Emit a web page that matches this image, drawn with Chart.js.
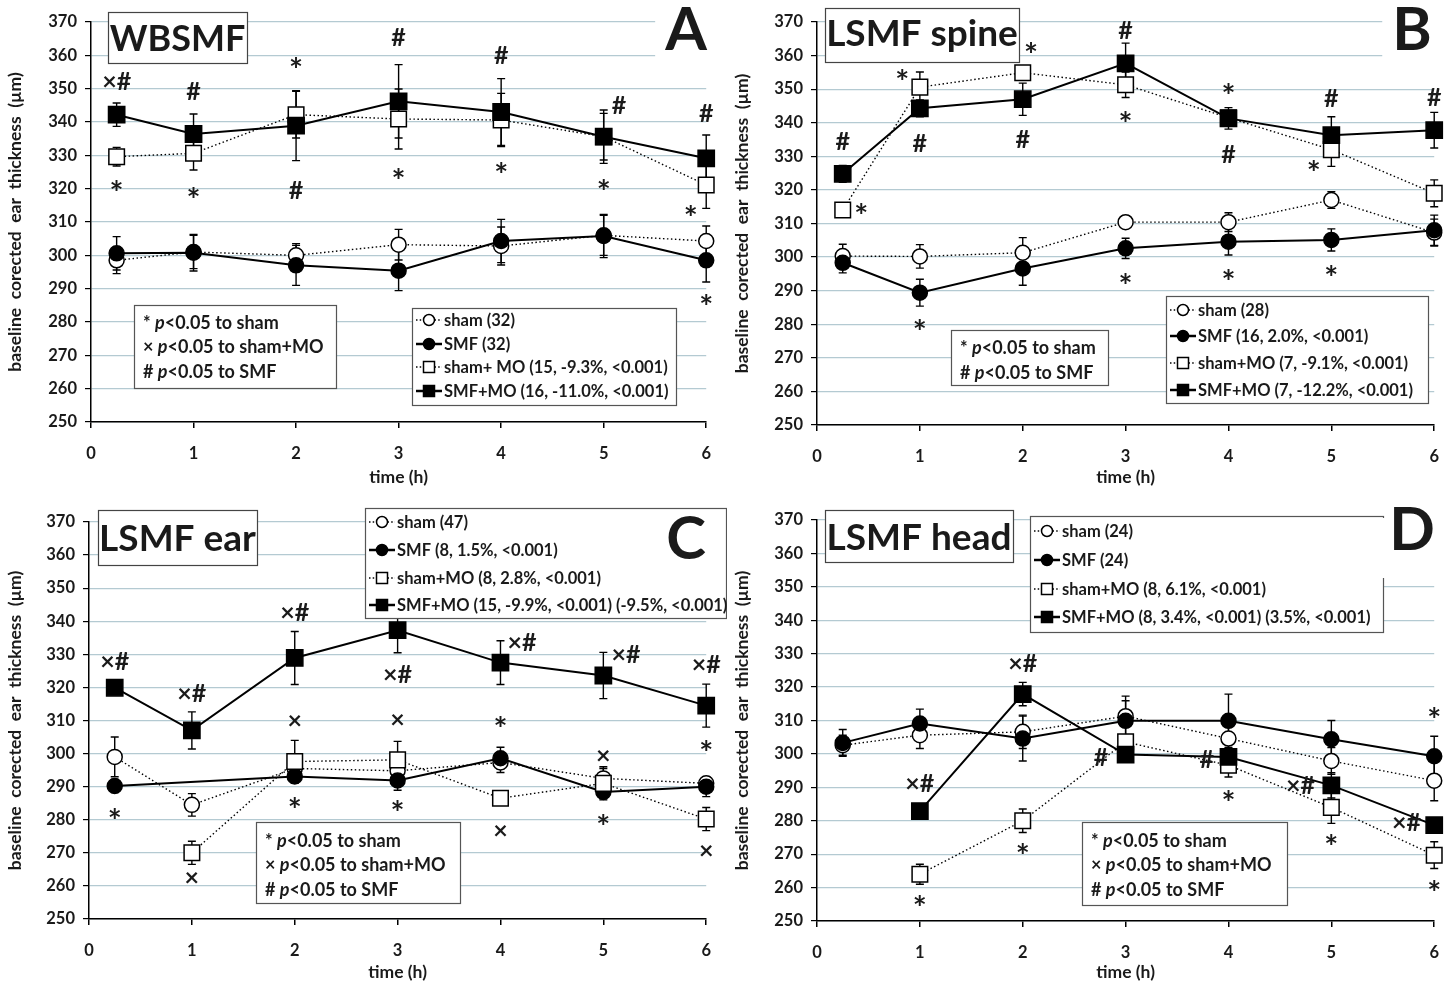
<!DOCTYPE html>
<html><head><meta charset="utf-8">
<script src="https://cdn.jsdelivr.net/npm/chart.js@4"></script>
<style>
html,body{margin:0;padding:0;background:#fff;}
#wrap{position:relative;width:1455px;height:985px;overflow:hidden;background:#fff;}
canvas{position:absolute;}
</style></head><body>
<div id="wrap">
<canvas id="cA" width="727" height="490" style="left:0;top:0"></canvas>
<canvas id="cB" width="728" height="490" style="left:727px;top:0"></canvas>
<canvas id="cC" width="727" height="495" style="left:0;top:490px"></canvas>
<canvas id="cD" width="728" height="495" style="left:727px;top:490px"></canvas>
</div>
<script>
// ---------- DATA ----------
const timeH = [0.25, 1, 2, 3, 4, 5, 6];
const yTickMin = 250, yTickMax = 370, yTickStep = 10;
const xTickMin = 0, xTickMax = 6;
const yAxisTitle = 'baseline  corected  ear  thickness  (µm)';
const xAxisTitle = 'time (h)';

// Panel A (WBSMF)
const A_sham      = [298.5, 301.0, 300.0, 303.2, 302.8, 306.0, 304.3];
const A_shamErr   = [4, 5, 3.5, 4.6, 5.7, 6, 4.5];
const A_smf       = [300.6, 300.8, 297.0, 295.4, 304.3, 305.8, 298.5];
const A_smfErr    = [5, 5.5, 6, 6, 6.5, 6.5, 6.5];
const A_shamMO    = [329.6, 330.6, 342.2, 340.9, 340.6, 335.6, 321.1];
const A_shamMOErr = [2.8, 5, 7, 9, 8, 7, 7];
const A_smfMO     = [342.2, 336.4, 338.9, 346.2, 343.0, 335.6, 329.1];
const A_smfMOErr  = [3.5, 6, 10.5, 11, 10, 8, 7];
const A_legend = ['sham (32)', 'SMF (32)', 'sham+ MO (15, -9.3%, <0.001)', 'SMF+MO (16, -11.0%, <0.001)'];
const A_marks = [[0.25,352.3,'×#'],[1,349.3,'#'],[2,358,'*'],[3,365.4,'#'],[4,360,'#'],[5.15,345,'#'],[6,342.6,'#'],
  [0.25,321,'*'],[1,319,'*'],[2,319.6,'#'],[3,324.6,'*'],[4,326.6,'*'],[5,321.4,'*'],[5.85,313.6,'*'],[6,287,'*']];

// Panel B (LSMF spine)
const B_sham      = [300.3, 300.2, 301.3, 310.4, 310.4, 317.0, 307.3];
const B_shamErr   = [3.5, 3.5, 4.5, 1.8, 2.8, 2.5, 4];
const B_smf       = [298.3, 289.4, 296.6, 302.6, 304.6, 305.1, 308.0];
const B_smfErr    = [3, 4, 5, 3, 4, 3.3, 4.5];
const B_shamMO    = [314.0, 350.6, 354.9, 351.3, 341.5, 332.0, 319.0];
const B_shamMOErr = [0, 4.5, 1.5, 3.8, 1.5, 5, 4];
const B_smfMO     = [324.8, 344.3, 347.0, 357.7, 341.3, 336.3, 337.8];
const B_smfMOErr  = [2.5, 2.5, 4.8, 6, 3.2, 5.5, 5.3];
const B_legend = ['sham (28)', 'SMF (16, 2.0%, <0.001)', 'sham+MO (7, -9.1%, <0.001)', 'SMF+MO (7, -12.2%, <0.001)'];
const B_marks = [[0.25,334.5,'#'],[0.43,314.5,'*'],[0.83,354.6,'*'],[1,334,'#'],[2.08,362.7,'*'],[2,335.2,'#'],
  [3,367.6,'#'],[3,341.9,'*'],[4,350.3,'*'],[4,330.8,'#'],[5,347.3,'#'],[4.83,327.5,'*'],[6,347.8,'#'],
  [1,280,'*'],[3,293.9,'*'],[4,294.9,'*'],[5,296.3,'*']];

// Panel C (LSMF ear)
const C_sham      = [299.0, 284.5, 295.5, 294.8, 297.3, 292.5, 291.0];
const C_shamErr   = [6, 3.4, 2, 2, 3, 3, 2];
const C_smf       = [290.2, null, 293.1, 291.9, 298.6, 288.4, 290.0];
const C_smfErr    = [2, null, 2, 3, 3.3, 2, 3];
const C_shamMO    = [null, 270.0, 297.6, 298.1, 286.5, 291.0, 280.2];
const C_shamMOErr = [null, 3.5, 6.4, 5.6, 2, 5, 3.5];
const C_smfMO     = [319.9, 307.0, 328.9, 337.3, 327.5, 323.6, 314.5];
const C_smfMOErr  = [1.5, 5.6, 8, 6.8, 6.6, 7, 6.5];
const C_legend = ['sham (47)', 'SMF (8, 1.5%, <0.001)', 'sham+MO (8, 2.8%, <0.001)', 'SMF+MO (15, -9.9%, <0.001) (-9.5%, <0.001)'];
const C_marks = [[0.25,328,'×#'],[1,318.4,'×#'],[2,342.7,'×#'],[3,324,'×#'],[4.21,333.6,'×#'],[5.22,330.2,'×#'],[6,327,'×#'],
  [2,310,'×'],[3,310.3,'×'],[4,309.8,'*'],[6,302.7,'*'],[5,299.3,'×'],[0.25,282,'*'],[2,285.5,'*'],[3,284.5,'*'],
  [4,276.9,'×'],[5,280.1,'*'],[6,270.8,'×'],[1,262.5,'×']];

// Panel D (LSMF head)
const D_sham      = [302.6, 305.6, 306.6, 311.3, 304.6, 297.9, 292.0];
const D_shamErr   = [3, 4, 5, 6, 4, 4, 6];
const D_smf       = [303.3, 309.1, 304.6, 309.9, 309.9, 304.4, 299.3];
const D_smfErr    = [4, 4.3, 6.7, 6, 8, 5.6, 6];
const D_shamMO    = [null, 264.0, 280.0, 303.6, 296.6, 284.0, 269.7];
const D_shamMOErr = [null, 3, 3.5, 2, 3.5, 4.8, 4];
const D_smfMO     = [null, 282.9, 317.9, 299.8, 299.1, 290.6, 278.7];
const D_smfMOErr  = [null, 1.5, 3.5, 2, 2.5, 3.8, 0];
const D_legend = ['sham (24)', 'SMF (24)', 'sham+MO (8, 6.1%, <0.001)', 'SMF+MO (8, 3.4%, <0.001) (3.5%, <0.001)'];
const D_marks = [[2,327.1,'×#'],[1,291.4,'×#'],[2.76,299.1,'#'],[3.79,298.6,'#'],[4.7,290.7,'×#'],[5.73,279.7,'×#'],
  [6,312.6,'*'],[4,287.7,'*'],[5,274.4,'*'],[2,271.7,'*'],[1,256.2,'*'],[6,260.7,'*']];

const notesAll = [['*','sham'],['×','sham+MO'],['#','SMF']];
const notesB = [['*','sham'],['#','SMF']];

// ---------- LAYOUT ----------
const FONT = 'Lato, "Open Sans", sans-serif';
const INK = '#1a1a1a';
const panels = {
  cA: {title:'WBSMF', letter:'A', legend:A_legend, marks:A_marks, notes:notesAll,
       series:[A_sham,A_shamErr,A_smf,A_smfErr,A_shamMO,A_shamMOErr,A_smfMO,A_smfMOErr],
       area:{top:22, right:19, yw:91, xh:68},
       tbox:[108,12,139,51], tfont:36, letterPos:[686,48],
       lbox:[412,308,264,97], lrows:[320,344,367,391],
       nbox:[134,305,202,83], nrows:[322,346,371]},
  cB: {title:'LSMF spine', letter:'B', legend:B_legend, marks:B_marks, notes:notesB,
       series:[B_sham,B_shamErr,B_smf,B_smfErr,B_shamMO,B_shamMOErr,B_smfMO,B_smfMOErr],
       area:{top:22, right:20, yw:90, xh:65},
       tbox:[98,8,194,54], tfont:37, letterPos:[685,48],
       lbox:[439,296,262,107], lrows:[310,336,363,390],
       nbox:[224,330,157,55], nrows:[347,372]},
  cC: {title:'LSMF ear', letter:'C', legend:C_legend, marks:C_marks, notes:notesAll,
       series:[C_sham,C_shamErr,C_smf,C_smfErr,C_shamMO,C_shamMOErr,C_smfMO,C_smfMOErr],
       area:{top:32, right:19, yw:89, xh:66},
       tbox:[98,20,159,55], tfont:37, letterPos:[686,67],
       lbox:[365,18,361,110], lrows:[32,60,88,115],
       nbox:[256,332,204,81], nrows:[350,374,399]},
  cD: {title:'LSMF head', letter:'D', legend:D_legend, marks:D_marks, notes:notesAll,
       series:[D_sham,D_shamErr,D_smf,D_smfErr,D_shamMO,D_shamMOErr,D_smfMO,D_smfMOErr],
       area:{top:30, right:20, yw:90, xh:64},
       tbox:[98,20,188,52], tfont:37, letterPos:[685,58],
       lbox:[303,26,353,116], lrows:[41,70,99,127],
       nbox:[355,332,205,83], nrows:[350,374,399]}
};

function centerText(ctx, text, cx, cy) {
  const m = ctx.measureText(text);
  const asc = m.actualBoundingBoxAscent, desc = m.actualBoundingBoxDescent;
  ctx.textAlign = 'center';
  ctx.textBaseline = 'alphabetic';
  ctx.fillText(text, cx, cy + (asc - desc) / 2);
}

function drawSample(ctx, kind, x, y) {
  const w = 26, cx = x + 13;
  const dotted = (kind === 0 || kind === 2);
  ctx.save();
  ctx.strokeStyle = '#000';
  ctx.lineWidth = dotted ? 1.4 : 2.5;
  ctx.setLineDash(dotted ? [1.5, 2.2] : []);
  ctx.beginPath(); ctx.moveTo(x, y); ctx.lineTo(x + w, y); ctx.stroke();
  ctx.setLineDash([]);
  ctx.lineWidth = 1.5;
  ctx.fillStyle = (kind === 1 || kind === 3) ? '#000' : '#fff';
  ctx.beginPath();
  if (kind < 2) ctx.arc(cx, y, 5.5, 0, Math.PI * 2);
  else ctx.rect(cx - 5.5, y - 5.5, 11, 11);
  ctx.fill(); ctx.stroke();
  ctx.restore();
}

function drawBox(ctx, b, stroke) {
  ctx.save();
  ctx.fillStyle = '#fff';
  ctx.fillRect(b[0], b[1], b[2], b[3]);
  ctx.strokeStyle = stroke; ctx.lineWidth = 1.2;
  ctx.strokeRect(b[0] + 0.5, b[1] + 0.5, b[2], b[3]);
  ctx.restore();
}

const overlay = {
  id: 'overlay',
  beforeDatasetsDraw(chart) {
    const ctx = chart.ctx, ys = chart.scales.y;
    ctx.save();
    ctx.strokeStyle = '#000'; ctx.lineWidth = 1.4;
    chart.data.datasets.forEach((ds, d) => {
      const meta = chart.getDatasetMeta(d);
      ds.data.forEach((p, i) => {
        const e = ds.errs[i];
        if (p.y === null || !e) return;
        const el = meta.data[i];
        const x = el.x;
        const t = ys.getPixelForValue(p.y + e), b = ys.getPixelForValue(p.y - e);
        ctx.beginPath();
        ctx.moveTo(x, t); ctx.lineTo(x, b);
        ctx.moveTo(x - 4, t); ctx.lineTo(x + 4, t);
        ctx.moveTo(x - 4, b); ctx.lineTo(x + 4, b);
        ctx.stroke();
      });
    });
    ctx.restore();
  },
  afterDraw(chart) {
    const cfg = panels[chart.canvas.id];
    const ctx = chart.ctx, xs = chart.scales.x, ys = chart.scales.y;
    ctx.save();
    // significance marks
    ctx.fillStyle = INK;
    cfg.marks.forEach(m => {
      ctx.font = (m[2] === '*' ? 'bold 33px ' : 'bold 25px ') + FONT;
      centerText(ctx, m[2], xs.getPixelForValue(m[0]), ys.getPixelForValue(m[1]));
    });
    // title box
    drawBox(ctx, cfg.tbox, '#444');
    ctx.fillStyle = INK;
    ctx.font = 'bold ' + cfg.tfont + 'px ' + FONT;
    centerText(ctx, cfg.title, cfg.tbox[0] + cfg.tbox[2] / 2, cfg.tbox[1] + cfg.tbox[3] / 2);
    // legend box
    drawBox(ctx, cfg.lbox, '#555');
    ctx.font = 'bold 16.5px ' + FONT;
    ctx.fillStyle = INK;
    cfg.legend.forEach((t, k) => {
      const y = cfg.lrows[k];
      drawSample(ctx, k, cfg.lbox[0] + 4, y);
      ctx.textAlign = 'left'; ctx.textBaseline = 'middle';
      ctx.fillText(t, cfg.lbox[0] + 32, y + 1);
    });
    // notes box
    drawBox(ctx, cfg.nbox, '#555');
    cfg.notes.forEach((n, k) => {
      const y = cfg.nrows[k];
      let x = cfg.nbox[0] + 9;
      ctx.textAlign = 'left'; ctx.textBaseline = 'middle';
      ctx.fillStyle = INK;
      ctx.font = 'bold 18px ' + FONT;
      ctx.fillText(n[0] + ' ', x, y + 1); x += ctx.measureText(n[0] + ' ').width;
      ctx.font = 'italic bold 18px ' + FONT;
      ctx.fillText('p', x, y + 1); x += ctx.measureText('p').width;
      ctx.font = 'bold 18px ' + FONT;
      ctx.fillText('<0.05 to ' + n[1], x, y + 1);
    });
    // panel letter
    ctx.font = 'bold 60px ' + FONT;
    const lm = ctx.measureText(cfg.letter);
    if (cfg.letter !== 'C') {
      ctx.fillStyle = '#fff';
      ctx.fillRect(cfg.letterPos[0] - lm.width / 2 - 10, cfg.letterPos[1] - 30, lm.width + 20, 60);
    }
    ctx.fillStyle = INK;
    centerText(ctx, cfg.letter, cfg.letterPos[0], cfg.letterPos[1]);
    ctx.restore();
  }
};

function pts(vals) { return timeH.map((t, i) => ({x: t, y: vals[i]})); }

function build(id) {
  const cfg = panels[id];
  const s = cfg.series;
  const common = {borderColor:'#000', pointBorderColor:'#000', pointBorderWidth:1.5, spanGaps:true, tension:0};
  const datasets = [
    Object.assign({label:'sham', data:pts(s[0]), errs:s[1], borderWidth:1.4, borderDash:[1.5,2.5],
      pointStyle:'circle', pointRadius:7.5, pointBackgroundColor:'#fff', order:4}, common),
    Object.assign({label:'SMF', data:pts(s[2]), errs:s[3], borderWidth:2,
      pointStyle:'circle', pointRadius:7.5, pointBackgroundColor:'#000', order:3}, common),
    Object.assign({label:'sham+MO', data:pts(s[4]), errs:s[5], borderWidth:1.4, borderDash:[1.5,2.5],
      pointStyle:'rect', pointRadius:11, pointBackgroundColor:'#fff', order:2}, common),
    Object.assign({label:'SMF+MO', data:pts(s[6]), errs:s[7], borderWidth:2,
      pointStyle:'rect', pointRadius:11.5, pointBackgroundColor:'#000', order:1}, common)
  ];
  const tickFont = {family: FONT, weight: 'bold', size: 16.5};
  new Chart(document.getElementById(id), {
    type: 'line',
    data: {datasets},
    options: {
      responsive: false, animation: false, devicePixelRatio: 1,
      layout: {padding: {left: 0, top: cfg.area.top, right: cfg.area.right, bottom: 0}},
      plugins: {legend: {display: false}, tooltip: {enabled: false}},
      elements: {line: {borderCapStyle: 'butt'}},
      clip: false,
      scales: {
        x: {type: 'linear', min: xTickMin, max: xTickMax,
            ticks: {stepSize: 1, color: INK, font: tickFont, padding: 16},
            grid: {drawOnChartArea: false, tickColor: '#000', tickLength: 6, lineWidth: 1.5},
            border: {color: '#000', width: 1.5},
            title: {display: true, text: xAxisTitle, color: INK, font: {family: FONT, weight: 'bold', size: 17.5}, padding: {top: 0, bottom: 2}},
            afterFit(sc) { sc.height = cfg.area.xh; }},
        y: {min: yTickMin, max: yTickMax,
            ticks: {stepSize: yTickStep, color: INK, font: tickFont, padding: 8},
            grid: {color: '#b4cad2', lineWidth: 1.2, tickColor: '#000', tickLength: 6},
            border: {color: '#000', width: 1.5},
            title: {display: true, text: yAxisTitle, color: INK, font: {family: FONT, weight: 'bold', size: 17.5}, padding: {top: 5, bottom: 0}},
            afterFit(sc) { sc.width = cfg.area.yw; }}
      }
    },
    plugins: [overlay]
  });
}

Promise.all([
  document.fonts.load('bold 16px Lato'),
  document.fonts.load('italic bold 16px Lato')
]).catch(() => {}).then(() => {
  ['cA', 'cB', 'cC', 'cD'].forEach(build);
});
</script>
</body></html>
